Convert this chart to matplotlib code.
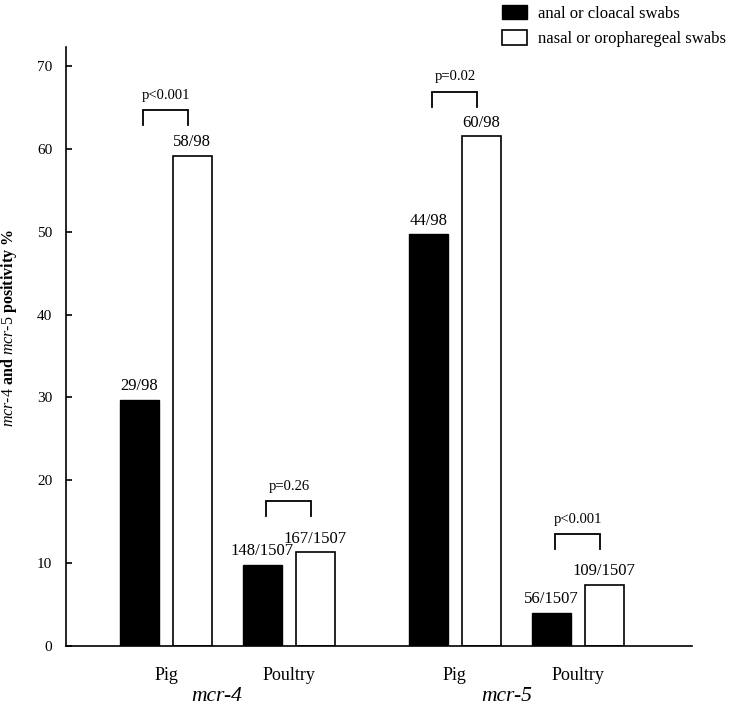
import matplotlib
matplotlib.use("Agg")
import matplotlib.pyplot as plt
from matplotlib.patches import Patch

plt.rcParams['font.family'] = ['Liberation Serif', 'DejaVu Serif']
plt.rcParams['mathtext.fontset'] = 'custom'
plt.rcParams['mathtext.it'] = 'Liberation Serif:italic'
plt.rcParams['mathtext.rm'] = 'Liberation Serif'
plt.rcParams['mathtext.bf'] = 'Liberation Serif:bold'

categories = ["Pig", "Poultry", "Pig", "Poultry"]
genes = ["mcr-4", "mcr-5"]
anal_values = [29.7, 9.8, 49.7, 4.0]
nasal_values = [59.2, 11.3, 61.5, 7.4]
anal_labels = ["29/98", "148/1507", "44/98", "56/1507"]
nasal_labels = ["58/98", "167/1507", "60/98", "109/1507"]
p_labels = ["p<0.001", "p=0.26", "p=0.02", "p<0.001"]
legend_labels = ["anal or cloacal swabs", "nasal or oropharegeal swabs"]
yticks = [0, 10, 20, 30, 40, 50, 60, 70]

positions = [1.0, 2.0, 3.35, 4.35]
off = 0.215
width = 0.317

fig = plt.figure(figsize=(7.36, 7.08), dpi=100)
ax = fig.add_axes([0.0897, 0.0876, 0.8503, 0.846])

xa = [p - off for p in positions]
xn = [p + off for p in positions]
ax.bar(xa, anal_values, width=width, color='black', edgecolor='black', linewidth=1.0)
ax.bar(xn, nasal_values, width=width, color='white', edgecolor='black', linewidth=1.2)

for x, v, t in zip(xa, anal_values, anal_labels):
    ax.annotate(t, (x, v), xytext=(0, 4), textcoords='offset points',
                ha='center', va='bottom', fontsize=12)
for x, v, t in zip(xn, nasal_values, nasal_labels):
    ax.annotate(t, (x, v), xytext=(0, 4), textcoords='offset points',
                ha='center', va='bottom', fontsize=12)

# significance brackets
bracket_tops = [64.7, 17.5, 66.9, 13.5]
leg = 1.8
half = 0.183
for p, top, lab in zip(positions, bracket_tops, p_labels):
    ax.plot([p - half, p - half, p + half, p + half],
            [top - leg, top, top, top - leg], color='black', lw=1.3,
            solid_joinstyle='miter')
    ax.text(p, top + 1.0, lab, ha='center', va='bottom', fontsize=10.5)

ax.set_xlim(0.187, 5.277)
ax.set_ylim(0, 72.3)
ax.set_yticks(yticks)
ax.set_yticklabels([str(v) for v in yticks], fontsize=11)
ax.tick_params(axis='y', direction='in', length=4, width=1.2, pad=10)
ax.set_xticks(positions)
ax.set_xticklabels(categories, fontsize=13)
ax.tick_params(axis='x', length=0, pad=15)

for s in ['top', 'right']:
    ax.spines[s].set_visible(False)
for s in ['left', 'bottom']:
    ax.spines[s].set_linewidth(1.2)

fig.text(9 / 736, 1 - 328 / 708,
         r'$\mathit{mcr}$-$\mathit{4}$ and $\mathit{mcr}$-$\mathit{5}$ positivity %',
         rotation=90, ha='center', va='center', fontsize=11.5, fontweight='bold')

# gene group labels
fig.text(217 / 736, 2 / 708, genes[0], ha='center', va='bottom',
         fontsize=15.5, style='italic')
fig.text(507 / 736, 2 / 708, genes[1], ha='center', va='bottom',
         fontsize=15.5, style='italic')

handles = [Patch(facecolor='black', edgecolor='black'),
           Patch(facecolor='white', edgecolor='black', linewidth=1.2)]
fig.legend(handles, legend_labels, loc='upper left',
           bbox_to_anchor=(487 / 736, 1.014), frameon=False, fontsize=12,
           handlelength=1.5, handleheight=0.95, handletextpad=0.65,
           labelspacing=0.5)

fig.savefig('out.png', dpi=100)
